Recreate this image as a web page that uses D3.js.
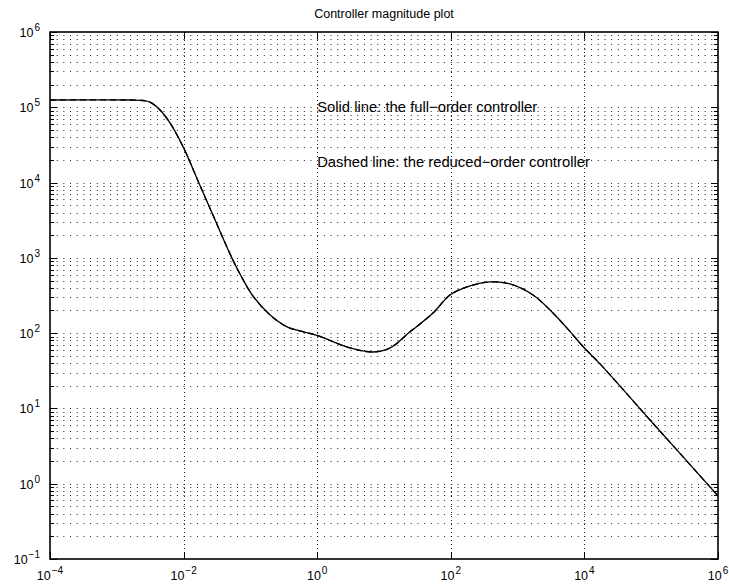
<!DOCTYPE html>
<html>
<head>
<meta charset="utf-8">
<script src="https://cdn.jsdelivr.net/npm/d3@7"></script>
<style>
  html, body { margin: 0; padding: 0; background: #fff; }
  svg { display: block; font-family: "Liberation Sans", Arial, Helvetica, sans-serif; }
</style>
</head>
<body>
<svg id="chart" width="729" height="584"></svg>
<script>
// ---- data ----
const frequency = [1e-4, 1.58e-3, 2.47e-3, 3.14e-3, 4.44e-3, 6.25e-3, 9.8e-3, 1.76e-2, 2.95e-2,
  4.95e-2, 6.98e-2, 0.109, 0.196, 0.353, 0.553, 0.993, 3.1, 6.84, 12.3, 24.5, 54.2, 97.2, 175,
  386, 769, 1702, 3055, 5495, 9528, 17140, 95940, 1e6];
const fullOrderMag = [1.25e5, 1.25e5, 1.23e5, 1.17e5, 9.2e4, 6.19e4, 3.0e4, 9.14e3, 3.21e3,
  1.13e3, 611, 312, 175, 121, 107, 93.3, 63.5, 56.2, 63.5, 104, 185, 321, 411,
  479, 450, 321, 203, 116.6, 66.5, 39.0, 7.03, 0.689];
const reducedOrderMag = [1.25e5, 1.25e5, 1.23e5, 1.17e5, 9.2e4, 6.19e4, 3.0e4, 9.14e3, 3.21e3,
  1.13e3, 611, 312, 175, 121, 107, 93.3, 63.5, 56.2, 63.5, 104, 185, 321, 411,
  479, 450, 321, 203, 116.6, 66.5, 39.0, 7.03, 0.689];
const xTickExponents = [-4, -2, 0, 2, 4, 6];
const yTickExponents = [-1, 0, 1, 2, 3, 4, 5, 6];
const titleText = "Controller magnitude plot";
const annotations = ["Solid line: the full\u2212order controller", "Dashed line: the reduced\u2212order controller"];
const annotationPos = [[1e0, 8.67e4], [1e0, 1.61e4]];

// ---- layout ----
const svg = d3.select("#chart");
const L = 50, R = 718, T = 32, B = 559;
const x = d3.scaleLog().domain([1e-4, 1e6]).range([L, R]);
const y = d3.scaleLog().domain([1e-1, 1e6]).range([B, T]);

// y grid values (major + minor)
const yGridVals = [];
for (let e = -1; e < 6; e++) for (let m = 1; m < 10; m++) yGridVals.push(m * Math.pow(10, e));
yGridVals.push(1e6);

const grid = svg.append("g");
grid.selectAll("line.h").data(yGridVals.filter(v => v > 1e-1 && v < 1e6)).enter().append("line")
  .attr("x1", L).attr("x2", R)
  .attr("y1", d => Math.round(y(d)) + 0.5).attr("y2", d => Math.round(y(d)) + 0.5)
  .attr("stroke", "#222").attr("stroke-width", 1).attr("stroke-dasharray", "1,5.68");
grid.selectAll("line.v").data(xTickExponents.slice(1, -1)).enter().append("line")
  .attr("y1", T).attr("y2", B)
  .attr("x1", d => Math.round(x(Math.pow(10, d))) + 0.5).attr("x2", d => Math.round(x(Math.pow(10, d))) + 0.5)
  .attr("stroke", "#222").attr("stroke-width", 1).attr("stroke-dasharray", "1,3");

// curves
const line = d3.line().x(d => x(d[0])).y(d => y(d[1])).curve(d3.curveCatmullRom.alpha(0.5));
svg.append("path").datum(frequency.map((f, i) => [f, fullOrderMag[i]]))
  .attr("d", line).attr("fill", "none").attr("stroke", "#000").attr("stroke-width", 1.3);
svg.append("path").datum(frequency.map((f, i) => [f, reducedOrderMag[i]]))
  .attr("d", line).attr("fill", "none").attr("stroke", "#000").attr("stroke-width", 1.3)
  .attr("stroke-dasharray", "6,4");

// axes box
svg.append("rect").attr("x", L).attr("y", T).attr("width", R - L).attr("height", B - T)
  .attr("fill", "none").attr("stroke", "#000").attr("stroke-width", 1.6);

// ticks
const ticks = svg.append("g").attr("stroke", "#000").attr("stroke-width", 1);
xTickExponents.forEach(e => {
  const px = Math.round(x(Math.pow(10, e))) + 0.5;
  ticks.append("line").attr("x1", px).attr("x2", px).attr("y1", B).attr("y2", B - 7);
  ticks.append("line").attr("x1", px).attr("x2", px).attr("y1", T).attr("y2", T + 7);
});
yGridVals.forEach(v => {
  const py = Math.round(y(v)) + 0.5;
  const major = Math.abs(Math.log10(v) - Math.round(Math.log10(v))) < 1e-9;
  const len = major ? 7 : 4;
  ticks.append("line").attr("x1", L).attr("x2", L + len).attr("y1", py).attr("y2", py);
  ticks.append("line").attr("x1", R).attr("x2", R - len).attr("y1", py).attr("y2", py);
});

function expLabel(sel, e) {
  sel.append("tspan").text("10");
  sel.append("tspan").attr("dx", 1).attr("dy", -6).attr("font-size", 10)
    .text(e < 0 ? "\u2212" + Math.abs(e) : String(e));
}

// x labels
xTickExponents.forEach(e => {
  const t = svg.append("text").attr("x", x(Math.pow(10, e))).attr("y", B + 21)
    .attr("text-anchor", "middle").attr("font-size", 12.5).attr("fill", "#000");
  expLabel(t, e);
});
// y labels
yTickExponents.forEach(e => {
  const t = svg.append("text").attr("x", 40).attr("y", y(Math.pow(10, e)) + 5)
    .attr("text-anchor", "end").attr("font-size", 12.5).attr("fill", "#000");
  expLabel(t, e);
});

// title
svg.append("text").attr("x", (L + R) / 2).attr("y", 18).attr("text-anchor", "middle")
  .attr("font-size", 12.5).attr("fill", "#000").text(titleText);

// annotations
annotations.forEach((s, i) => {
  svg.append("text").attr("x", x(annotationPos[i][0])).attr("y", y(annotationPos[i][1]))
    .attr("font-size", 14.8).attr("fill", "#000").text(s);
});
</script>
</body>
</html>
